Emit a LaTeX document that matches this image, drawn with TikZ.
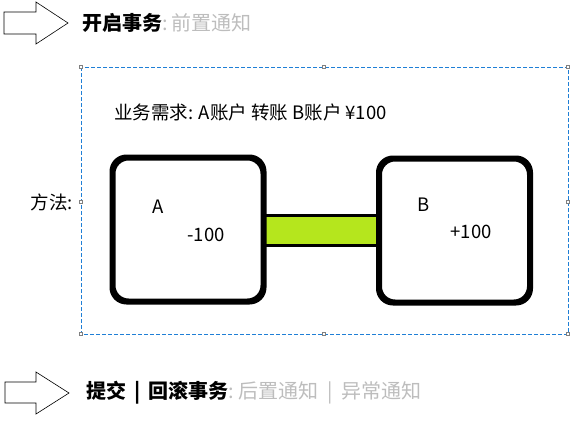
\documentclass[tikz,border=0pt]{standalone}
\usepackage{fontspec}
\setmainfont{Noto Sans CJK SC}
\usetikzlibrary{positioning}
\definecolor{framblue}{HTML}{1F7FD6}
\definecolor{barlime}{HTML}{B5E61D}
\definecolor{notegray}{HTML}{BDBDBD}
\tikzset{
    acct/.style={draw, line width=4pt, rounded corners=15pt, minimum width=149pt, minimum height=142pt, fill=white},
    handle/.style={draw=gray, fill=white, line width=0.5pt, minimum size=3pt, inner sep=0pt},
    blockarrow/.style={draw, line width=0.6pt, fill=white},
    headtext/.style={anchor=west, inner sep=0pt, font=\fontsize{20}{22}\selectfont},
    bodytext/.style={inner sep=0pt, font=\fontsize{18.5}{21}\selectfont}
}
\begin{document}
\begin{tikzpicture}[x=1pt, y=-1pt]
    \useasboundingbox (0,0) rectangle (588,421);

    % arrows at top and bottom
    \draw[blockarrow] (4,12) -- (36,12) -- (36,2) -- (68,23) -- (36,44) -- (36,34) -- (4,34) -- cycle;
    \draw[blockarrow] (5,382) -- (36,382) -- (36,372) -- (69,393) -- (36,414) -- (36,403) -- (5,403) -- cycle;

    \node[headtext] (opentx) at (82,23)
        {\textbf{开启事务}\textcolor{notegray}{:\,前置通知}};
    \node[headtext] (endtx) at (86,393)
        {\textbf{提交\ \,|\ \,回滚事务}\textcolor{notegray}{:\ 后置通知\ \ |\ \ 异常通知}};

    % dashed frame with handles
    \draw[framblue, dash pattern=on 4pt off 2pt, line width=0.8pt] (81,67) rectangle (568,334);
    \foreach \hx/\hy in {81/67, 324/67, 568/67, 81/202, 568/202, 81/334, 324/334, 568/334}
        \node[handle] at (\hx,\hy) {};

    \node[bodytext, anchor=east] (method) at (73,202) {方法:};
    \node[bodytext, anchor=west] (need) at (114,112)
        {业务需求: A账户 转账 B账户 ¥100};

    % accounts
    \node[acct] (boxA) at (188,229.5) {};
    \node[acct] (boxB) at (454.5,230.5) {};
    \draw[line width=3pt, fill=barlime] ([yshift=-16pt]boxA.east) rectangle ([yshift=15pt]boxB.west);
    \draw[line width=4pt, rounded corners=15pt] (boxA.north west) rectangle (boxA.south east);
    \draw[line width=4pt, rounded corners=15pt] (boxB.north west) rectangle (boxB.south east);

    \node[bodytext] (nameA) at (158,207) {A};
    \node[bodytext] (valA) at (206,235) {-100};
    \node[bodytext] (nameB) at (424,205) {B};
    \node[bodytext] (valB) at (471,232) {+100};
\end{tikzpicture}
\end{document}
